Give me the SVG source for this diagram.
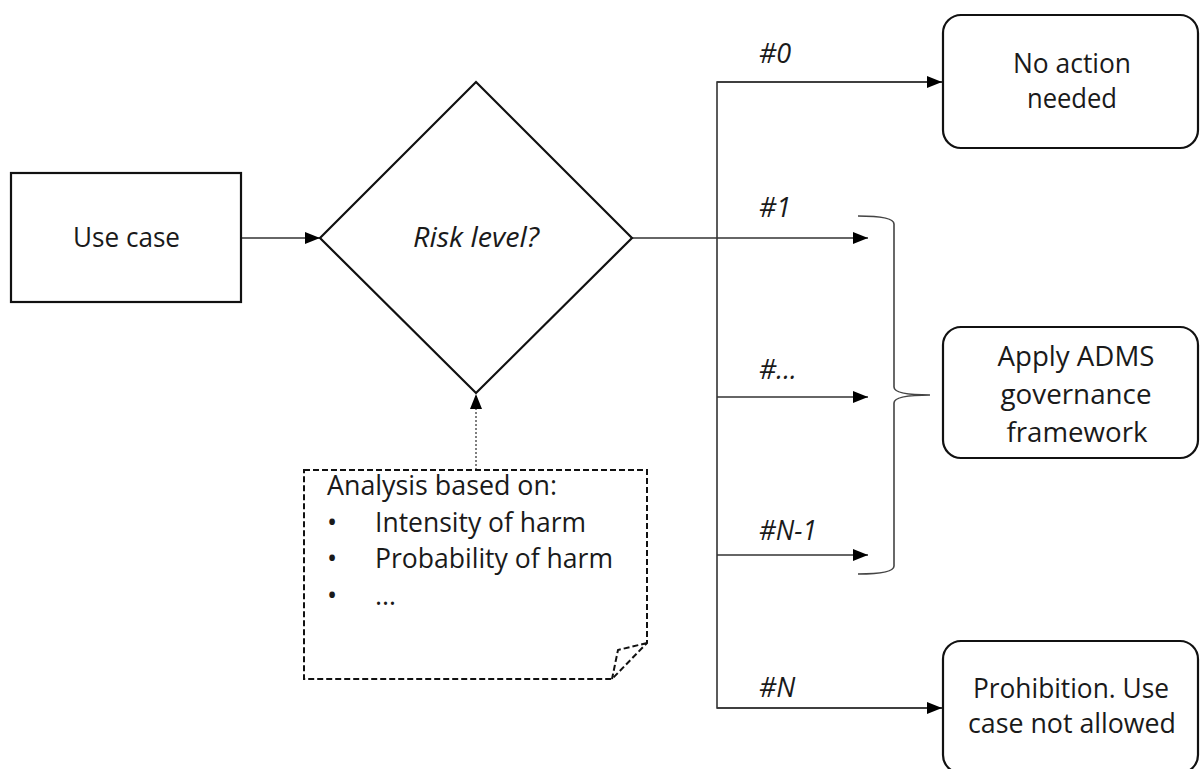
<svg xmlns="http://www.w3.org/2000/svg" width="1200" height="769" viewBox="0 0 1200 769">
<defs>
<style>
.box{fill:#fff;stroke:#111;stroke-width:2.2}
.conn{fill:none;stroke:#333;stroke-width:1.6}
.dot{fill:none;stroke:#555;stroke-width:1.5;stroke-dasharray:2 2}
.dash{fill:none;stroke:#111;stroke-width:2;stroke-dasharray:6 3}
.brace{fill:none;stroke:#444;stroke-width:1.6}
.t{font-family:"Open Sans","Liberation Sans",sans-serif;font-size:27px;fill:#1a1a1a}
.m{text-anchor:middle}
.i{font-style:italic}
</style>
<marker id="ah" viewBox="0 0 15 12" refX="15" refY="6" markerWidth="15" markerHeight="12" markerUnits="userSpaceOnUse" orient="auto">
<path d="M0,0 L15,6 L0,12 Z" fill="#000"/>
</marker>
</defs>
<rect width="1200" height="769" fill="#fff"/>
<g id="connectors">
<line class="conn" x1="241" y1="238" x2="320" y2="238" marker-end="url(#ah)"/>
<line class="dot" x1="476" y1="470" x2="476" y2="394" marker-end="url(#ah)"/>
<line class="conn" x1="632" y1="238" x2="868" y2="238" marker-end="url(#ah)"/>
<polyline class="conn" points="942,82 717,82 717,708 942,708"/>
<line class="conn" x1="717" y1="82" x2="942" y2="82" marker-end="url(#ah)"/>
<line class="conn" x1="717" y1="708" x2="942" y2="708" marker-end="url(#ah)"/>
<line class="conn" x1="717" y1="397" x2="868" y2="397" marker-end="url(#ah)"/>
<line class="conn" x1="717" y1="555" x2="868" y2="555" marker-end="url(#ah)"/>
<path class="brace" d="M858,216 Q894,216 894,224 L894,387 Q894,395 930,395 Q894,395 894,403 L894,566 Q894,574 858,574"/>
<text class="t i" x="759" y="63">#0</text>
<text class="t i" x="759" y="217">#1</text>
<text class="t i" x="759" y="379">#...</text>
<text class="t i" x="759" y="540" textLength="58" lengthAdjust="spacingAndGlyphs">#N-1</text>
<text class="t i" x="759" y="697">#N</text>
</g>
<g id="use-case">
<rect class="box" x="11" y="173" width="230" height="129"/>
<text class="t m" x="126.5" y="247" textLength="107" lengthAdjust="spacingAndGlyphs">Use case</text>
</g>
<g id="risk-level">
<polygon class="box" points="476,82 632,238 476,393 320,238"/>
<text class="t m i" x="476" y="247" textLength="126" lengthAdjust="spacingAndGlyphs">Risk level?</text>
</g>
<g id="analysis-note">
<path class="dash" fill="#fff" d="M304,470 L647,470 L647,643 L612,679 L304,679 Z"/>
<path class="dash" d="M647,643 L618,650 L612,679"/>
<text class="t" x="327" y="495" textLength="230" lengthAdjust="spacingAndGlyphs">Analysis based on:</text>
<text class="t" x="327" y="532">•</text>
<text class="t" x="375" y="532" textLength="211" lengthAdjust="spacingAndGlyphs">Intensity of harm</text>
<text class="t" x="327" y="568">•</text>
<text class="t" x="375" y="568" textLength="238" lengthAdjust="spacingAndGlyphs">Probability of harm</text>
<text class="t" x="327" y="605">•</text>
<text class="t" x="375" y="605">…</text>
</g>
<g id="no-action">
<rect class="box" x="943" y="15" width="255" height="133" rx="18"/>
<text class="t m" x="1072" y="73" textLength="118" lengthAdjust="spacingAndGlyphs">No action</text>
<text class="t m" x="1072" y="108" textLength="90" lengthAdjust="spacingAndGlyphs">needed</text>
</g>
<g id="apply-adms">
<rect class="box" x="943" y="327" width="255" height="131" rx="18"/>
<text class="t m" x="1076" y="366" textLength="157" lengthAdjust="spacingAndGlyphs">Apply ADMS</text>
<text class="t m" x="1076" y="404" textLength="151" lengthAdjust="spacingAndGlyphs">governance</text>
<text class="t m" x="1077" y="442" textLength="141" lengthAdjust="spacingAndGlyphs">framework</text>
</g>
<g id="prohibition">
<rect class="box" x="943" y="641" width="255" height="132" rx="18"/>
<text class="t m" x="1071" y="698" textLength="196" lengthAdjust="spacingAndGlyphs">Prohibition. Use</text>
<text class="t m" x="1072" y="733" textLength="208" lengthAdjust="spacingAndGlyphs">case not allowed</text>
</g>
</svg>
